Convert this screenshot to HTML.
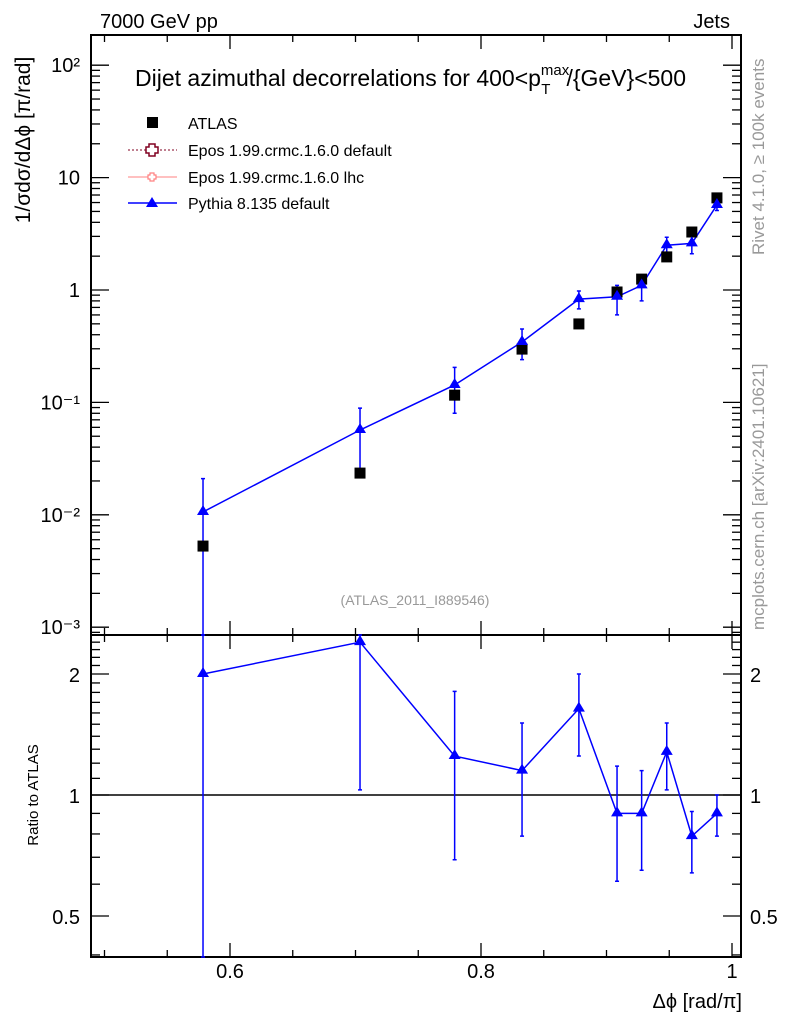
<!DOCTYPE html>
<html><head><meta charset="utf-8"><style>
html,body{margin:0;padding:0;background:#fff;}
svg{display:block;font-family:"Liberation Sans",sans-serif;}
</style></head><body>
<svg id="c" width="786" height="1024" viewBox="0 0 786 1024" xmlns="http://www.w3.org/2000/svg">
<text x="100" y="28" font-size="20">7000 GeV pp</text>
<text x="730" y="28" font-size="20" text-anchor="end">Jets</text>
<text x="135" y="86" font-size="23">Dijet azimuthal decorrelations for 400&lt;p<tspan font-size="15" dy="-11">max</tspan><tspan font-size="15" dx="-28" dy="19">T</tspan><tspan dy="-8" dx="16">/{GeV}&lt;500</tspan></text>
<text x="415" y="605" font-size="14" fill="#999" text-anchor="middle">(ATLAS_2011_I889546)</text>
<text transform="translate(764,255) rotate(-90)" font-size="17" fill="#999">Rivet 4.1.0, ≥ 100k events</text>
<text transform="translate(764,630) rotate(-90)" font-size="17" fill="#999">mcplots.cern.ch [arXiv:2401.10621]</text>
<text transform="translate(30,140) rotate(-90)" font-size="21" text-anchor="middle">1/σdσ/dΔϕ [π/rad]</text>
<text transform="translate(38,795) rotate(-90)" font-size="15" text-anchor="middle">Ratio to ATLAS</text>
<text x="742" y="1008" font-size="20" text-anchor="end">Δϕ [rad/π]</text>
<g>
 <rect x="147" y="117" width="11" height="11" fill="#000"/>
 <text x="188" y="129" font-size="16">ATLAS</text>
 <line x1="128" y1="150" x2="177" y2="150" stroke="#800020" stroke-dasharray="2,2"/>
 <path d="M149,144h6v3h3v6h-3v3h-6v-3h-3v-6h3z" fill="#fff" stroke="#800020" stroke-width="1.5"/>
 <text x="188" y="156" font-size="16">Epos 1.99.crmc.1.6.0 default</text>
 <line x1="128" y1="177" x2="177" y2="177" stroke="#ff8080"/>
 <path d="M150,173h4v2h2v4h-2v2h-4v-2h-2v-4h2z" fill="#fff" stroke="#ff8080" stroke-width="1.2"/>
 <text x="188" y="183" font-size="16">Epos 1.99.crmc.1.6.0 lhc</text>
 <line x1="128" y1="203" x2="177" y2="203" stroke="#0000ff" stroke-width="1.5"/>
 <path d="M152,197l6,10h-12z" fill="#0000ff"/>
 <text x="188" y="209" font-size="16">Pythia 8.135 default</text>
</g>
<g id="plot"></g>
</svg>
<script>
const xVals=[0.5785,0.7036,0.779,0.8327,0.878,0.9084,0.928,0.948,0.968,0.988];
const atlasVals=[0.00527,0.0235,0.116,0.298,0.499,0.96,1.25,1.97,3.28,6.6];
const pythiaVals=[0.0106,0.0568,0.143,0.345,0.83,0.87,1.1,2.5,2.6,5.7];
const pythiaLo=[0.0005,0.025,0.08,0.24,0.68,0.6,0.8,2.05,2.1,5.1];
const pythiaHi=[0.021,0.089,0.205,0.45,0.98,1.1,1.35,2.95,3.0,6.3];
const ratioVals=[2.0,2.4,1.25,1.15,1.64,0.9,0.9,1.28,0.79,0.9];
const ratioLo=[0.3,1.03,0.69,0.79,1.25,0.61,0.65,1.03,0.64,0.79];
const ratioHi=[3.0,3.0,1.81,1.51,2.0,1.18,1.15,1.51,0.91,1.0];
const xTicks=[0.6,0.8,1.0];
const xTickLabels=["0.6","0.8","1"];
const mainTickExp=[-3,-2,-1,0,1,2];
const mainTickLabels=["10⁻³","10⁻²","10⁻¹","1","10","10²"];
const ratioTicks=[0.5,1,2];
const ratioTickLabels=["0.5","1","2"];

const L=91,R=741,MT=35,MB=635,RB=957;
const X=v=>230+(v-0.6)*1255;
const Y=v=>290-Math.log10(v)*112.4;
const YR=v=>795-Math.log2(v)*121;
const NS="http://www.w3.org/2000/svg";
const g=document.getElementById('plot');
function mk(t,a){const e=document.createElementNS(NS,t);for(const k in a)e.setAttribute(k,a[k]);g.appendChild(e);return e;}
const cl=(y,a,b)=>Math.max(a,Math.min(b,y));

let e;
e=mk('rect',{x:L,y:MT,width:R-L,height:MB-MT,fill:'none',stroke:'#000','stroke-width':2});


e=mk('rect',{x:L,y:MB,width:R-L,height:RB-MB,fill:'none',stroke:'#000','stroke-width':2});



for(let v=0.5;v<=1.001;v+=0.05){
 const x=X(v);if(x<L||x>R)continue;
 const major=Math.abs(v*10-Math.round(v*10))<0.01&&Math.round(v*10)%2===0;
 const len=major?14:7;
 for(const [y0,d] of [[MT,1],[MB,-1],[MB,1],[RB,-1]]){
  e=mk('line',{x1:x,y1:y0,x2:x,y2:y0+d*len,stroke:'#000','stroke-width':1.3});
  
  
 }
}
xTicks.forEach((v,i)=>{
 e=mk('text',{x:X(v),y:978,'font-size':20,'text-anchor':'middle'});e.textContent=xTickLabels[i];
 
 
});
for(let p=-4;p<=2;p++){for(let m=1;m<10;m++){
 const v=m*Math.pow(10,p);const y=Y(v);if(y<MT||y>MB)continue;
 const len=m===1?18:9;
 for(const [x0,d] of [[L,1],[R,-1]]){
  e=mk('line',{x1:x0,y1:y,x2:x0+d*len,y2:y,stroke:'#000','stroke-width':1.3});
  
  
 }
}}
mainTickExp.forEach((p,i)=>{
 e=mk('text',{x:80,y:Y(Math.pow(10,p))+7,'font-size':20,'text-anchor':'end'});e.textContent=mainTickLabels[i];
 
 
});
for(let v=0.4;v<=2.5;v+=0.1){
 const y=YR(v);if(y<MB||y>RB)continue;
 const major=[0.5,1,2].some(t=>Math.abs(t-v)<0.01);
 const len=major?18:9;
 for(const [x0,d] of [[L,1],[R,-1]]){
  e=mk('line',{x1:x0,y1:y,x2:x0+d*len,y2:y,stroke:'#000','stroke-width':1.3});
  
  
 }
}
ratioTicks.forEach((v,i)=>{
 e=mk('text',{x:80,y:YR(v)+8,'font-size':20,'text-anchor':'end'});e.textContent=ratioTickLabels[i];
 
 
 e=mk('text',{x:750,y:YR(v)+8,'font-size':20});e.textContent=ratioTickLabels[i];
 
 
});
e=mk('line',{x1:L,y1:YR(1),x2:R,y2:YR(1),stroke:'#000','stroke-width':1.5});



e=mk('polyline',{points:xVals.map((x,i)=>X(x)+','+Y(pythiaVals[i])).join(' '),fill:'none',stroke:'#0000ff','stroke-width':1.5});


xVals.forEach((xv,i)=>{
 const x=X(xv),y1=cl(Y(pythiaHi[i]),MT,MB),y2=cl(Y(pythiaLo[i]),MT,MB);
 e=mk('path',{d:`M${x},${y1}V${y2}M${x-2},${y1}h4M${x-2},${y2}h4`,stroke:'#0000ff','stroke-width':1.5,fill:'none'});
 
 
});
xVals.forEach((xv,i)=>{
 const x=X(xv),y=Y(atlasVals[i]);
 e=mk('rect',{x:x-5.5,y:y-5.5,width:11,height:11,fill:'#000'});
 
 
 const py=Y(pythiaVals[i]);
 e=mk('path',{d:`M${x},${py-7}l6,10h-12z`,fill:'#0000ff'});
 
 
});
e=mk('polyline',{points:xVals.map((x,i)=>X(x)+','+YR(ratioVals[i])).join(' '),fill:'none',stroke:'#0000ff','stroke-width':1.5});


xVals.forEach((xv,i)=>{
 const x=X(xv),y1=cl(YR(ratioHi[i]),MB,RB),y2=cl(YR(ratioLo[i]),MB,RB);
 e=mk('path',{d:`M${x},${y1}V${y2}M${x-2},${y1}h4M${x-2},${y2}h4`,stroke:'#0000ff','stroke-width':1.5,fill:'none'});
 
 
 const y=YR(ratioVals[i]);
 e=mk('path',{d:`M${x},${y-7}l6,10h-12z`,fill:'#0000ff'});
 
 
});
</script>
</body></html>
